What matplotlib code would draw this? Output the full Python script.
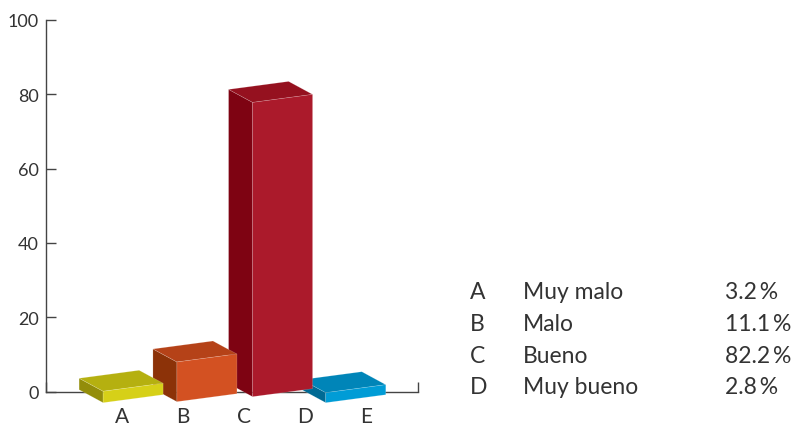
import matplotlib
matplotlib.use('Agg')
import matplotlib.pyplot as plt
from matplotlib.patches import Polygon

plt.rcParams['font.family'] = ['Lato', 'DejaVu Sans']

# values
tick_letters = ['A', 'B', 'C', 'D', 'E']
bar_values = [3.2, 11.1, 82.2, 2.8]
bar_x = [-0.31, 0.90, 2.14, 3.34]      # left edge of the front face
bar_base = [-2.96, -2.69, -1.34, -2.96]  # bottom of the front face
y_ticks = [0, 20, 40, 60, 80, 100]

front_colors = ['#D6D018', '#D35122', '#AB1A2B', '#009CD6']
top_colors = ['#B5B010', '#B54218', '#95111F', '#0085B8']
side_colors = ['#938D0A', '#8C3208', '#7E0312', '#006A94']

legend_letters = ['A', 'B', 'C', 'D']
legend_names = ['Muy malo', 'Malo', 'Bueno', 'Muy bueno']
legend_pcts = ['3.2\u2009%', '11.1\u2009%', '82.2\u2009%', '2.8\u2009%']

W, H = 794, 427
TEXT = '#333333'
LINE = '#444444'

# fake 3D: front face width, slant of the base, depth vector, height scale
bar_w = 0.984
slant = 2.15
depth_x, depth_y = -0.393, 3.49
h_scale = 0.9624


def drawBar(ax, i):
    x0, y0 = bar_x[i], bar_base[i]
    x1, y1 = x0 + bar_w, y0 + slant
    h = bar_values[i] * h_scale
    front = [(x0, y0), (x1, y1), (x1, y1 + h), (x0, y0 + h)]
    side = [(x0, y0), (x0, y0 + h), (x0 + depth_x, y0 + h + depth_y), (x0 + depth_x, y0 + depth_y)]
    top = [(x0, y0 + h), (x1, y1 + h), (x1 + depth_x, y1 + h + depth_y), (x0 + depth_x, y0 + h + depth_y)]
    for pts, col in [(side, side_colors[i]), (top, top_colors[i]), (front, front_colors[i])]:
        ax.add_patch(Polygon(pts, closed=True, facecolor=col, edgecolor=(1, 1, 1, 0.25),
                             lw=0.4, clip_on=False, zorder=5))


fig = plt.figure(figsize=(W / 100, H / 100), dpi=100)
ax = fig.add_axes([46 / W, (H - 392.7) / H, (418 - 46) / W, (392 - 20) / H])
ax.set_xlim(-1.246, 4.852)
ax.set_ylim(0, 100)

# painted right to left, smaller bars overlap their right neighbour
for i in [3, 2, 1, 0]:
    drawBar(ax, i)

for s in ['top', 'right']:
    ax.spines[s].set_visible(False)
for s in ['left', 'bottom']:
    ax.spines[s].set_color(LINE)
    ax.spines[s].set_linewidth(1.0)

ax.set_yticks(y_ticks)
ax.tick_params(axis='y', direction='in', length=7, width=1, color=LINE, pad=5,
               labelsize=13, labelcolor=TEXT)
ax.set_xticks(range(5))
ax.set_xticklabels(tick_letters)
ax.tick_params(axis='x', which='major', length=0, pad=10.5, labelsize=15, labelcolor=TEXT)
ax.set_xticks(ax.get_xlim(), minor=True)
ax.tick_params(axis='x', which='minor', direction='in', length=7, width=1, color=LINE)

legend_y = [299, 331, 363, 394]
for y, a, b, c in zip(legend_y, legend_letters, legend_names, legend_pcts):
    fig.text(470 / W, 1 - y / H, a, fontsize=16.5, color=TEXT, va='baseline')
    fig.text(523 / W, 1 - y / H, b, fontsize=16.5, color=TEXT, va='baseline')
    fig.text(725 / W, 1 - y / H, c, fontsize=16.5, color=TEXT, va='baseline')

fig.savefig('out.png', dpi=100)
